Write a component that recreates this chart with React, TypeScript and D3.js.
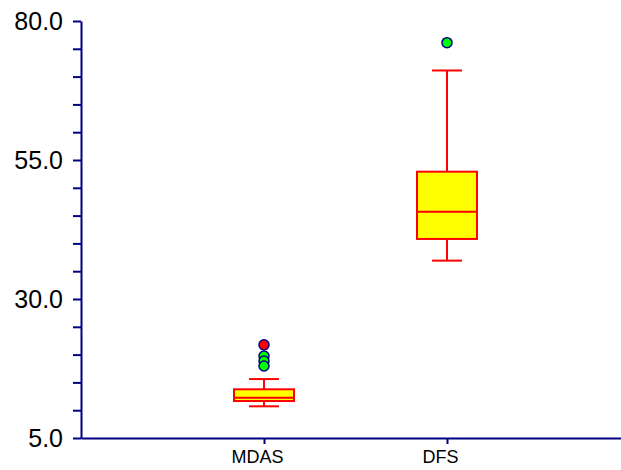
import { useEffect, useRef } from 'react';
import * as d3 from 'd3';

const categories = ['MDAS', 'DFS'];
const whiskerLow = [10.7, 36.9];
const q1 = [11.65, 40.8];
const median = [12.25, 45.7];
const q3 = [13.76, 52.9];
const whiskerHigh = [15.6, 71.1];
// outliers per category, red = far out
const outlierCategory = ['MDAS', 'MDAS', 'MDAS', 'MDAS', 'DFS'];
const outlierValue = [21.75, 19.75, 18.85, 17.95, 76.1];
const outlierFar = [true, false, false, false, false];
const majorTicks = [5, 30, 55, 80];

const App = () => {
  const svgRef = useRef<SVGSVGElement>(null);

  useEffect(() => {
    const svg = d3.select(svgRef.current);
    svg.selectAll('*').remove();

    const navy = '#000080';
    const left = 81;
    const top = 21;
    const bottom = 438;

    const y = d3.scaleLinear().domain([5, 80]).range([bottom, top]);
    const x = d3.scalePoint<string>().domain(categories).range([left, 630]).padding(1);

    // y axis, minor ticks every 5, labels on the majors
    const yAxis = svg.append('g')
      .attr('transform', `translate(${left},0)`)
      .call(d3.axisLeft(y)
        .tickValues(d3.range(5, 81, 5))
        .tickSize(8)
        .tickSizeOuter(0)
        .tickPadding(10)
        .tickFormat(d => (majorTicks.includes(+d) ? d3.format('.1f')(+d) : '')));
    yAxis.select('.domain').attr('stroke', navy).attr('stroke-width', 2);
    yAxis.selectAll('.tick line').attr('stroke', navy).attr('stroke-width', 2);
    yAxis.selectAll('.tick text')
      .attr('fill', '#000')
      .attr('font-family', 'Liberation Sans, Arial, sans-serif')
      .attr('font-size', 25);

    // x axis
    const xAxis = svg.append('g')
      .attr('transform', `translate(0,${bottom})`)
      .call(d3.axisBottom(x).tickSize(6).tickSizeOuter(0).tickPadding(6));
    xAxis.select('.domain').attr('stroke', navy).attr('stroke-width', 2);
    xAxis.selectAll('.tick line').attr('stroke', navy).attr('stroke-width', 2);
    xAxis.selectAll('.tick text')
      .attr('fill', '#000')
      .attr('font-family', 'Liberation Sans, Arial, sans-serif')
      .attr('font-size', 18)
      .attr('dx', -7);

    const boxW = 60;
    const capW = 30;
    const g = svg.append('g');

    categories.forEach((c, i) => {
      const cx = x(c) as number;
      // whiskers
      g.append('line')
        .attr('x1', cx).attr('x2', cx)
        .attr('y1', y(whiskerLow[i])).attr('y2', y(whiskerHigh[i]))
        .attr('stroke', 'red').attr('stroke-width', 2);
      [whiskerLow[i], whiskerHigh[i]].forEach(v => {
        g.append('line')
          .attr('x1', cx - capW / 2).attr('x2', cx + capW / 2)
          .attr('y1', y(v)).attr('y2', y(v))
          .attr('stroke', 'red').attr('stroke-width', 2);
      });
      // box
      g.append('rect')
        .attr('x', cx - boxW / 2)
        .attr('y', y(q3[i]))
        .attr('width', boxW)
        .attr('height', y(q1[i]) - y(q3[i]))
        .attr('fill', 'yellow')
        .attr('stroke', 'red')
        .attr('stroke-width', 2);
      g.append('line')
        .attr('x1', cx - boxW / 2).attr('x2', cx + boxW / 2)
        .attr('y1', y(median[i])).attr('y2', y(median[i]))
        .attr('stroke', 'red').attr('stroke-width', 2);
    });

    g.selectAll('circle')
      .data(outlierValue)
      .enter()
      .append('circle')
      .attr('cx', (_, i) => x(outlierCategory[i]) as number)
      .attr('cy', d => y(d))
      .attr('r', 5)
      .attr('fill', (_, i) => (outlierFar[i] ? 'red' : '#00ff00'))
      .attr('stroke', navy)
      .attr('stroke-width', 1.5);
  }, []);

  return (
    <svg
      ref={svgRef}
      width={621}
      height={470}
      style={{ position: 'absolute', left: 0, top: 0, background: '#fff' }}
    ></svg>
  );
};

export default App;
